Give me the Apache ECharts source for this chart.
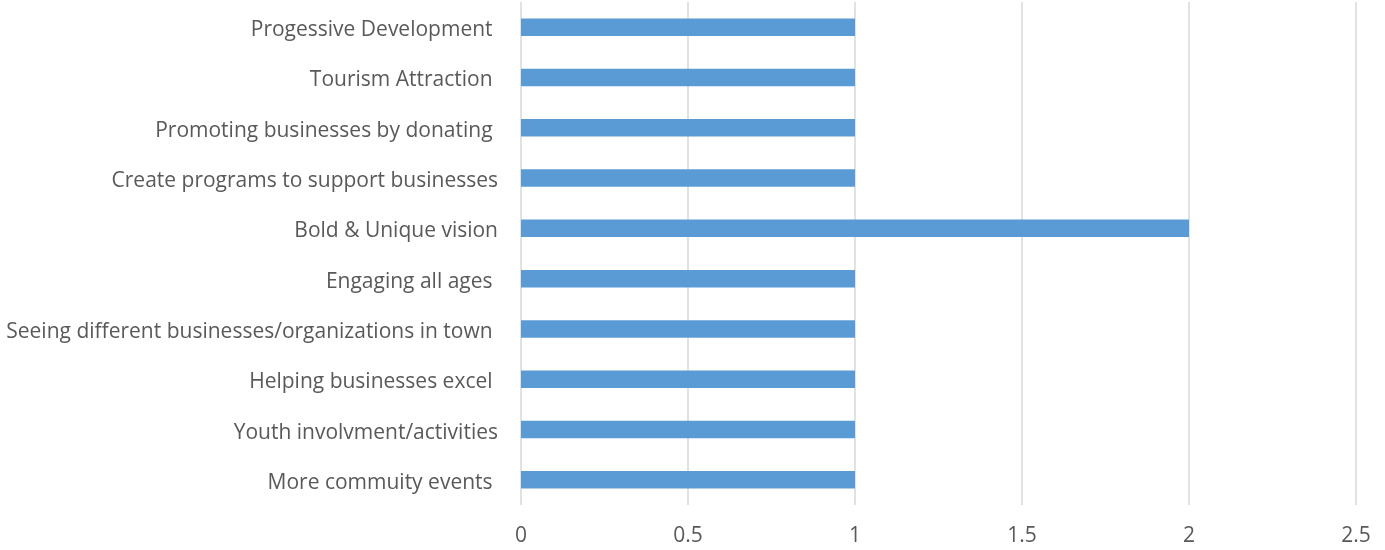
<!DOCTYPE html>
<html>
<head>
<meta charset="utf-8">
<script src="https://cdn.jsdelivr.net/npm/echarts@6/dist/echarts.min.js"></script>
<style>
  html, body { margin: 0; padding: 0; background: #ffffff; }
  #chart { width: 1385px; height: 550px; }
</style>
</head>
<body>
<div id="chart"></div>
<script>
// Categories listed bottom to top (category axis runs upward)
const categories = [
  'More commuity events ',
  'Youth involvment/activities',
  'Helping businesses excel ',
  'Seeing different businesses/organizations in town ',
  'Engaging all ages ',
  'Bold & Unique vision',
  'Create programs to support businesses',
  'Promoting businesses by donating ',
  'Tourism Attraction ',
  'Progessive Development '
];
const counts = [1, 1, 1, 1, 1, 2, 1, 1, 1, 1];
const xTicks = { min: 0, max: 2.5, step: 0.5 };

const chart = echarts.init(document.getElementById('chart'), null, { renderer: 'canvas' });
const textColor = '#595959';
const fontFamily = '"Open Sans", "Liberation Sans", sans-serif';

chart.setOption({
  animation: false,
  backgroundColor: '#ffffff',
  grid: { left: 521, right: 29, top: 2, bottom: 45, containLabel: false },
  xAxis: {
    type: 'value',
    min: xTicks.min,
    max: xTicks.max,
    interval: xTicks.step,
    axisLine: { show: false },
    axisTick: { show: false },
    splitLine: { show: true, lineStyle: { color: '#d9d9d9', width: 1.5 } },
    axisLabel: { color: textColor, fontSize: 21, fontFamily: fontFamily, margin: 21 }
  },
  yAxis: {
    type: 'category',
    data: categories,
    axisLine: { show: false },
    axisTick: { show: false },
    axisLabel: {
      margin: 23,
      formatter: (v) => '{c|' + v + '}',
      rich: {
        c: { color: textColor, fontSize: 21, fontFamily: fontFamily, padding: [6, 0, 0, 0] }
      }
    }
  },
  series: [{
    type: 'bar',
    data: counts,
    barWidth: 17.5,
    itemStyle: { color: '#5b9bd5' }
  }]
});
</script>
</body>
</html>
